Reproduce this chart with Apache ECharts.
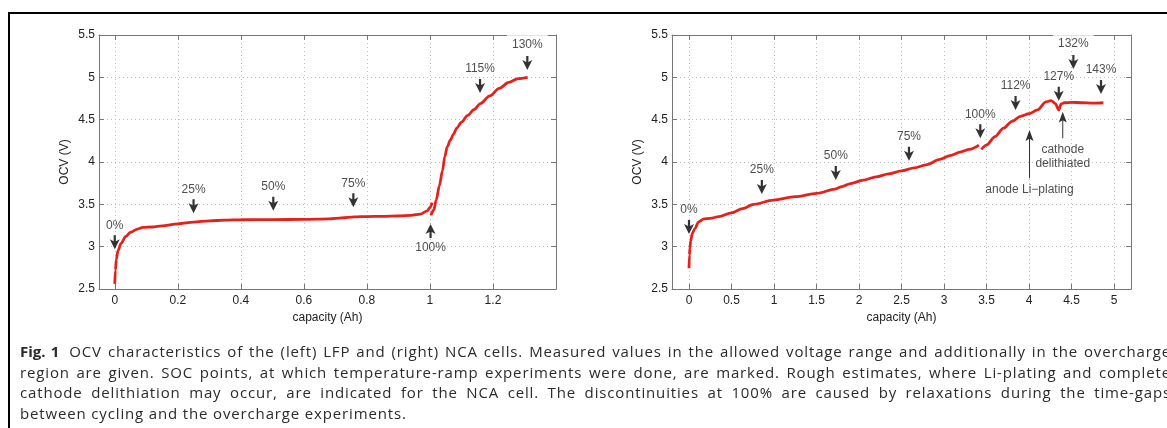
<!DOCTYPE html>
<html lang="en">
<head>
    <meta charset="UTF-8">
    <title>OCV characteristics</title>
    <style>
        html, body { margin: 0; padding: 0; background: #fff; overflow: hidden; }
        #chart { position: absolute; left: 0; top: 0; width: 1167px; height: 428px; }
        #caption {
            position: absolute; left: 20px; top: 341px; width: 1151px;
            font-family: "Open Sans", sans-serif; font-size: 15px; letter-spacing: 0.85px;
            line-height: 20.5px; color: #2b2b2b;
        }
        #caption div { white-space: nowrap; text-align: justify; text-align-last: justify; }
        #caption div.last { text-align-last: left; }
        #caption b { margin-right: 10px; letter-spacing: 0; }
    </style>
</head>
<body>
<div id="chart"></div>
<div id="caption"></div>
<script src="https://cdn.jsdelivr.net/npm/echarts@6/dist/echarts.min.js"></script>
<script type="text/javascript">
    // LFP cell (left), capacity in Ah, OCV in V
    var lfpCycling = [[0, 2.56], [0.002, 2.72], [0.005, 2.85], [0.01, 2.95], [0.02, 3.04], [0.035, 3.12],
        [0.05, 3.17], [0.07, 3.205], [0.09, 3.228], [0.12, 3.232], [0.15, 3.245], [0.2, 3.27], [0.25, 3.29],
        [0.3, 3.305], [0.35, 3.313], [0.4, 3.318], [0.5, 3.32], [0.6, 3.322], [0.68, 3.328], [0.72, 3.34],
        [0.76, 3.352], [0.8, 3.356], [0.85, 3.358], [0.9, 3.362], [0.94, 3.37], [0.97, 3.385], [0.99, 3.42],
        [1.0, 3.46], [1.007, 3.52]];
    var lfpOvercharge = [[1.003, 3.37], [1.012, 3.43], [1.02, 3.55], [1.03, 3.72], [1.04, 3.9], [1.047, 4.06],
        [1.055, 4.18], [1.065, 4.26], [1.075, 4.33], [1.085, 4.4], [1.1, 4.47], [1.12, 4.55], [1.14, 4.62],
        [1.16, 4.69], [1.19, 4.78], [1.22, 4.87], [1.25, 4.94], [1.28, 4.985], [1.31, 5.0]];
    // SOC markers: [capacity, arrow tip OCV, label]
    var lfpDownMarks = [[0, 2.97, '0%'], [0.25, 3.395, '25%'], [0.503, 3.425, '50%'], [0.757, 3.465, '75%'],
        [1.159, 4.815, '115%'], [1.309, 5.087, '130%']];
    var lfpUpMarks = [[1.002, 3.268, '100%']];

    // NCA cell (right)
    var ncaCycling = [[0, 2.744], [0.005, 2.9], [0.01, 2.98], [0.02, 3.07], [0.04, 3.16], [0.074, 3.22],
        [0.11, 3.29], [0.17, 3.325], [0.25, 3.335], [0.35, 3.354], [0.5, 3.4], [0.63, 3.45], [0.76, 3.5],
        [0.99, 3.55], [1.25, 3.59], [1.5, 3.63], [1.72, 3.68], [1.8, 3.71], [1.9, 3.745], [2.05, 3.785],
        [2.2, 3.825], [2.35, 3.86], [2.5, 3.895], [2.65, 3.93], [2.8, 3.97], [2.95, 4.03], [3.07, 4.075],
        [3.2, 4.12], [3.3, 4.15], [3.411, 4.2]];
    var ncaOvercharge = [[3.439, 4.15], [3.5, 4.2], [3.6, 4.3], [3.7, 4.4], [3.8, 4.48], [3.9, 4.54],
        [4.0, 4.57], [4.1, 4.615], [4.2, 4.71], [4.26, 4.725], [4.31, 4.69], [4.35, 4.614], [4.378, 4.685],
        [4.417, 4.7], [4.5, 4.705], [4.63, 4.7], [4.75, 4.695], [4.875, 4.7]];
    var ncaDownMarks = [[0, 3.15, '0%'], [0.857, 3.622, '25%'], [1.727, 3.787, '50%'], [2.588, 4.016, '75%'],
        [3.427, 4.28, '100%'], [3.842, 4.614, '112%'], [4.35, 4.724, '127%'], [4.522, 5.098, '132%'],
        [4.847, 4.803, '143%']];
    // long arrows: [capacity, tip OCV, tail OCV, label]
    var ncaNotes = [[4.006, 4.378, 3.807, 'anode Li\u2212plating'], [4.397, 4.594, 4.28, 'cathode\ndelithiated']];

    var lfpXTicks = [0, 0.2, 0.4, 0.6, 0.8, 1, 1.2];
    var ncaXTicks = [0, 0.5, 1, 1.5, 2, 2.5, 3, 3.5, 4, 4.5, 5];

    var captionLines = [
        'OCV characteristics of the (left) LFP and (right) NCA cells. Measured values in the allowed voltage range and additionally in the overcharge',
        'region are given. SOC points, at which temperature-ramp experiments were done, are marked. Rough estimates, where Li-plating and complete',
        'cathode delithiation may occur, are indicated for the NCA cell. The discontinuities at 100% are caused by relaxations during the time-gaps',
        'between cycling and the overcharge experiments.'
    ];

    var cap = document.getElementById('caption');
    captionLines.forEach(function (t, i) {
        var d = document.createElement('div');
        if (i === 0) {
            var b = document.createElement('b');
            b.textContent = 'Fig. 1';
            d.appendChild(b);
        }
        d.appendChild(document.createTextNode(t));
        if (i === captionLines.length - 1) d.className = 'last';
        cap.appendChild(d);
    });

    var FONT = "'Liberation Sans', Arial, sans-serif";
    var TXT = '#222';
    var RED = '#e5211c';
    var downArrow = 'path://M3.9,0 L6.1,0 L6.1,6 L10,4 L5,14 L0,4 L3.9,6 Z';
    var upArrow = 'path://M5,0 L10,10 L6.1,8 L6.1,14 L3.9,14 L3.9,8 L0,10 Z';
    function longUp(len) {
        return 'path://M4,0 L8,11 L4.5,9 L4.5,' + len + ' L3.5,' + len + ' L3.5,9 L0,11 Z';
    }

    function bottomAxis(grid, min, max, ticks, name) {
        return {
            type: 'value', gridIndex: grid, position: 'bottom', min: min, max: max,
            name: name, nameLocation: 'middle', nameGap: 20,
            nameTextStyle: { color: TXT, fontSize: 12, fontFamily: FONT },
            axisLine: { onZero: false, lineStyle: { color: '#777', width: 1 } },
            axisTick: { inside: true, length: 5, customValues: ticks, lineStyle: { color: '#777' } },
            axisLabel: { customValues: ticks, margin: 6, color: TXT, fontSize: 12, fontFamily: FONT },
            splitLine: { show: true, lineStyle: { color: '#bdbdbd', type: [1, 3], width: 1 } }
        };
    }
    function topAxis(grid, min, max, ticks) {
        return {
            type: 'value', gridIndex: grid, position: 'top', min: min, max: max,
            axisLine: { onZero: false, lineStyle: { color: '#777', width: 1 } },
            axisTick: { inside: true, length: 5, customValues: ticks, lineStyle: { color: '#777' } },
            axisLabel: { show: false }, splitLine: { show: false }
        };
    }
    function leftAxis(grid) {
        return {
            type: 'value', gridIndex: grid, position: 'left', min: 2.5, max: 5.5, interval: 0.5,
            name: 'OCV (V)', nameLocation: 'middle', nameGap: 28,
            nameTextStyle: { color: TXT, fontSize: 12, fontFamily: FONT },
            axisLine: { show: true, onZero: false, lineStyle: { color: '#777', width: 1 } },
            axisTick: { show: true, inside: true, length: 5, lineStyle: { color: '#777' } },
            axisLabel: { margin: 4, color: TXT, fontSize: 12, fontFamily: FONT },
            splitLine: { show: true, lineStyle: { color: '#bdbdbd', type: [1, 3], width: 1 } }
        };
    }
    function rightAxis(grid) {
        return {
            type: 'value', gridIndex: grid, position: 'right', min: 2.5, max: 5.5, interval: 0.5,
            axisLine: { show: true, onZero: false, lineStyle: { color: '#777', width: 1 } },
            axisTick: { show: true, inside: true, length: 5, lineStyle: { color: '#777' } },
            axisLabel: { show: false }, splitLine: { show: false }
        };
    }

    function curve(idx, data) {
        return {
            type: 'line', xAxisIndex: idx * 2, yAxisIndex: idx * 2, data: data,
            showSymbol: false, smooth: 0.3, smoothMonotone: 'x', z: 3,
            lineStyle: { color: RED, width: 2.8 }
        };
    }
    function marks(idx, data, up) {
        return {
            type: 'scatter', xAxisIndex: idx * 2, yAxisIndex: idx * 2, z: 5,
            symbol: up ? upArrow : downArrow, symbolSize: [10, 14], symbolOffset: [0, up ? 7 : -7],
            itemStyle: { color: '#000' },
            label: {
                show: true, position: up ? 'bottom' : 'top', distance: 4,
                color: TXT, fontSize: 12, fontFamily: FONT,
                formatter: function (p) { return p.value[2]; }
            },
            data: data.map(function (d) {
                var item = { value: d };
                if (d[1] > 5) {
                    item.label = { backgroundColor: '#fff', padding: [6, 5, 1, 5] };
                }
                return item;
            })
        };
    }

    var chart = echarts.init(document.getElementById('chart'));
    chart.setOption({
        animation: false,
        backgroundColor: '#fff',
        graphic: [{
            type: 'rect', z: 100, silent: true,
            shape: { x: 9, y: 13, width: 1200, height: 500 },
            style: { fill: 'none', stroke: '#000', lineWidth: 2 }
        }],
        grid: [
            { left: 99, top: 35, width: 457, height: 254 },
            { left: 672, top: 35, width: 459, height: 254 }
        ],
        xAxis: [
            bottomAxis(0, -0.05, 1.4, lfpXTicks, 'capacity (Ah)'),
            topAxis(0, -0.05, 1.4, lfpXTicks),
            bottomAxis(1, -0.2, 5.2, ncaXTicks, 'capacity (Ah)'),
            topAxis(1, -0.2, 5.2, ncaXTicks)
        ],
        yAxis: [leftAxis(0), rightAxis(0), leftAxis(1), rightAxis(1)],
        series: [
            curve(0, lfpCycling),
            curve(0, lfpOvercharge),
            marks(0, lfpDownMarks, false),
            marks(0, lfpUpMarks, true),
            curve(1, ncaCycling),
            curve(1, ncaOvercharge),
            marks(1, ncaDownMarks, false),
            {
                type: 'scatter', xAxisIndex: 2, yAxisIndex: 2, z: 5,
                itemStyle: { color: '#000' },
                label: {
                    show: true, position: 'bottom', distance: 4, lineHeight: 14,
                    color: TXT, fontSize: 12, fontFamily: FONT,
                    formatter: function (p) { return p.value[3]; }
                },
                data: ncaNotes.map(function (d) {
                    var len = (d[1] - d[2]) * 254 / 3;
                    return {
                        value: d, symbol: longUp(Math.round(len)),
                        symbolSize: [8, len], symbolOffset: [0, len / 2]
                    };
                })
            }
        ]
    });
</script>
</body>
</html>
